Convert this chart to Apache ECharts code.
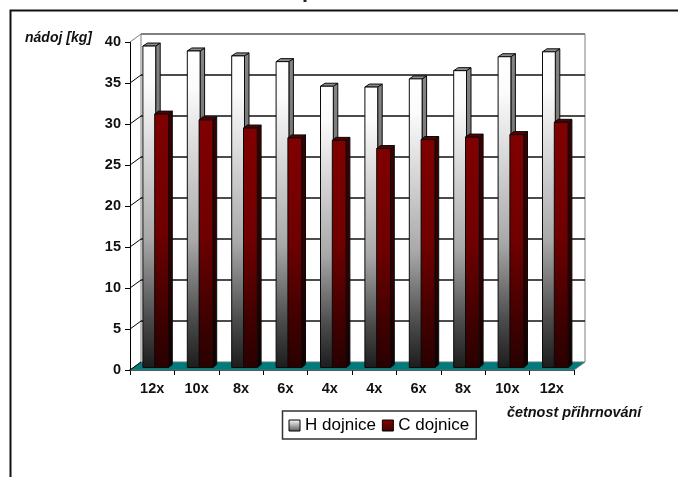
<!DOCTYPE html>
<html><head><meta charset="utf-8">
<style>html,body{margin:0;padding:0;background:#fff}#c{width:678px;height:477px}</style>
<script src="https://cdn.jsdelivr.net/npm/echarts@6/dist/echarts.min.js"></script>
</head><body><div id="c"></div>
<script>
const categories = ['12x','10x','8x','6x','4x','4x','6x','8x','10x','12x'];
const hDojnice = [39.2,38.6,38.0,37.3,34.3,34.2,35.2,36.2,37.9,38.5];
const cDojnice = [30.9,30.2,29.2,28.0,27.7,26.7,27.8,28.1,28.4,29.9];
const yTicks = [0,5,10,15,20,25,30,35,40];

const FONT = '"Liberation Sans", Arial, sans-serif';
const BACK_DX = 11, BACK_DY = -8;
const BAR_W = 12.8, BAR_DX = 3.5, BAR_DY = -2.5, SIDE_DY = -3;

function vGrad(stops){
  return {type:'linear',x:0,y:0,x2:0,y2:1,colorStops:stops.map(s=>({offset:s[0],color:s[1]}))};
}
const hFront = vGrad([[0,'#ffffff'],[0.12,'#fbfbfb'],[0.6,'#a8a8a8'],[0.85,'#4a4a4a'],[1,'#1c1c1c']]);
const hSide  = vGrad([[0,'#858585'],[0.55,'#6a6a6a'],[1,'#0e0e0e']]);
const hTop   = '#8c8c8c';
const cFront = vGrad([[0,'#800000'],[0.45,'#700000'],[0.8,'#400000'],[1,'#2a0000']]);
const cSide  = vGrad([[0,'#3a0000'],[0.6,'#2e0000'],[1,'#120000']]);
const cTop   = '#560000';

function barItem(leftShift, width, sideDx, front, side, top){
  return function(params, api){
    const i = api.value(0), v = api.value(1);
    const c = api.coord([i, v]), b = api.coord([i, 0]);
    const xl = c[0] + BAR_DX + leftShift, xr = xl + width;
    const yt = c[1] + BAR_DY, yb = b[1] + BAR_DY;
    const line = {stroke:'#0a0a0a', lineWidth:1};
    return {type:'group', children:[
      {type:'polygon', shape:{points:[[xr,yt],[xr+sideDx,yt+SIDE_DY],[xr+sideDx,yb+SIDE_DY],[xr,yb]]}, style:Object.assign({fill:side},line)},
      {type:'polygon', shape:{points:[[xl,yt],[xl+sideDx,yt+SIDE_DY],[xr+sideDx,yt+SIDE_DY],[xr,yt]]}, style:Object.assign({fill:top},line)},
      {type:'rect', shape:{x:xl,y:yt,width:width,height:yb-yt}, style:Object.assign({fill:front},line)}
    ]};
  };
}

function wallItem(params, api){
  const v = api.value(0);
  const p0 = api.coord([0, v]);
  const bw = api.size([1,0])[0];
  const x0 = p0[0] - bw/2, x1 = x0 + bw*categories.length, y = p0[1];
  const children = [];
  if (v === 0){
    const tb = api.coord([0,40])[1];
    children.push({type:'polygon', shape:{points:[[x0,y],[x1,y],[x1+BACK_DX,y+BACK_DY],[x0+BACK_DX,y+BACK_DY]]},
      style:{fill:'#007a7a',stroke:'#5a7a7a',lineWidth:1}});
    children.push({type:'line', shape:{x1:x0+BACK_DX,y1:tb+BACK_DY,x2:x0+BACK_DX,y2:y+BACK_DY}, style:{stroke:'#a8a8a8',lineWidth:1.5}});
    children.push({type:'line', shape:{x1:x1+BACK_DX,y1:tb+BACK_DY,x2:x1+BACK_DX,y2:y+BACK_DY}, style:{stroke:'#a8a8a8',lineWidth:1.5}});
  } else {
    children.push({type:'line', shape:{x1:x0+BACK_DX,y1:y+BACK_DY,x2:x1+BACK_DX,y2:y+BACK_DY},
      style:{stroke:v===40?'#808080':'#111111',lineWidth:v===40?2:1.5}});
  }
  children.push({type:'line', shape:{x1:x0,y1:y,x2:x0+BACK_DX,y2:y+BACK_DY},
    style:{stroke:v===40?'#808080':'#000000',lineWidth:1}});
  return {type:'group', children};
}

const chart = echarts.init(document.getElementById('c'), null, {renderer:'canvas'});
chart.setOption({
  animation:false,
  backgroundColor:'#ffffff',
  textStyle:{fontFamily:FONT},
  grid:{left:130, top:42, width:444, height:328},
  xAxis:{type:'category', data:categories, boundaryGap:true,
    axisLine:{lineStyle:{color:'#000',width:1.5}},
    axisTick:{show:true,length:5,alignWithLabel:false,lineStyle:{color:'#000',width:1}},
    axisLabel:{color:'#111',fontWeight:'bold',fontSize:14.5,fontFamily:FONT,margin:11,interval:0},
    splitLine:{show:false}},
  yAxis:{type:'value', min:0, max:40, interval:5,
    axisLine:{show:true,lineStyle:{color:'#000',width:1}},
    axisTick:{show:true,length:5,lineStyle:{color:'#000',width:1}},
    axisLabel:{color:'#111',fontWeight:'bold',fontSize:14.5,fontFamily:FONT,margin:9},
    splitLine:{show:false}},
  legend:{left:282.5, top:411, orient:'horizontal', itemWidth:11, itemHeight:11, itemGap:6,
    padding:[6,7,5,6], borderColor:'#333', borderWidth:1.5, backgroundColor:'#fff', icon:'rect',
    textStyle:{fontSize:17,color:'#000',fontFamily:FONT},
    data:[
      {name:'H dojnice', itemStyle:{color:vGrad([[0,'#ffffff'],[1,'#555555']]),borderColor:'#000',borderWidth:1}},
      {name:'C dojnice', itemStyle:{color:vGrad([[0,'#8a0000'],[1,'#400000']]),borderColor:'#000',borderWidth:1}}
    ]},
  series:[
    {type:'custom', name:'walls', silent:true, z:1, clip:false,
     data:yTicks.map(v=>[v]), encode:{x:-1,y:0}, renderItem:wallItem},
    {type:'custom', name:'H dojnice', z:3, clip:false,
     data:hDojnice.map((v,i)=>[i,v]), encode:{x:0,y:1}, renderItem:barItem(-BAR_W,BAR_W,4.5,hFront,hSide,hTop)},
    {type:'custom', name:'C dojnice', z:4, clip:false,
     data:cDojnice.map((v,i)=>[i,v]), encode:{x:0,y:1}, renderItem:barItem(-1,13.8,3.8,cFront,cSide,cTop)}
  ],
  graphic:[
    {type:'polyline', silent:true, z:0, shape:{points:[[10.5,477],[10.5,10.5],[678,10.5]]}, style:{fill:'none',stroke:'#111',lineWidth:2}},
    {type:'rect', silent:true, shape:{x:303.5,y:0,width:3,height:2}, style:{fill:'#222'}},
    {type:'text', silent:true, style:{text:'nádoj [kg]',x:25,y:38,fill:'#111',font:'italic bold 14px '+FONT,textVerticalAlign:'middle'}},
    {type:'text', silent:true, style:{text:'četnost přihrnování',x:507,y:413,fill:'#111',font:'italic bold 14.4px '+FONT,textVerticalAlign:'middle'}}
  ]
});
</script></body></html>
